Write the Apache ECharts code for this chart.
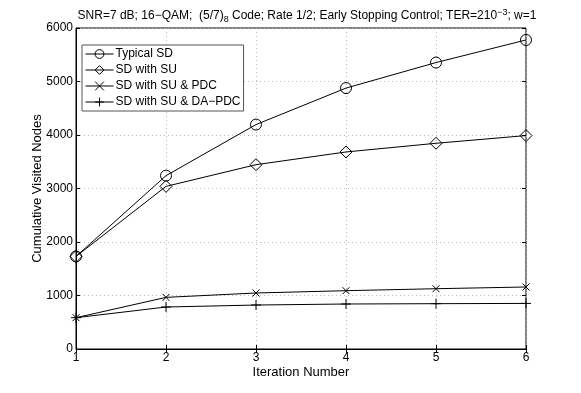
<!DOCTYPE html>
<html>
<head>
<meta charset="utf-8">
<script src="https://cdn.jsdelivr.net/npm/echarts@6/dist/echarts.min.js"></script>
<style>
  html, body { margin: 0; padding: 0; background: #fff; }
  #main { width: 581px; height: 393px; }
</style>
</head>
<body>
<div id="main"></div>
<script>
var iterations = [1, 2, 3, 4, 5, 6];
var typicalSD = [1730, 3240, 4195, 4877, 5354, 5776];
var sdWithSU = [1730, 3040, 3445, 3683, 3845, 3989];
var suPDC = [585, 965, 1047, 1090, 1127, 1159];
var suDAPDC = [585, 785, 822, 841, 847, 852];
var seriesNames = ['Typical SD', 'SD with SU', 'SD with SU & PDC', 'SD with SU & DA\u2212PDC'];

var font = 'Liberation Sans, Arial, Helvetica, sans-serif';
var crossPath = 'path://M0,0L10,10M10,0L0,10';
var plusPath = 'path://M5,0L5,10M0,5L10,5';

function pairs(vals) {
    return iterations.map(function (x, i) { return [x, vals[i]]; });
}

function makeSeries(name, vals, symbol, size) {
    return {
        name: name,
        type: 'line',
        data: pairs(vals),
        symbol: symbol,
        symbolSize: size,
        showAllSymbol: true,
        lineStyle: { color: '#000', width: 1 },
        itemStyle: { color: 'rgba(0,0,0,0)', borderColor: '#000', borderWidth: 1 },
        emphasis: { disabled: true },
        animation: false
    };
}

var chart = echarts.init(document.getElementById('main'));
chart.setOption({
    backgroundColor: '#fff',
    title: {
        text: 'SNR=7 dB; 16\u2212QAM;  (5/7){sub|8} Code; Rate 1/2; Early Stopping Control; TER=210{sup|\u22123}; w=1',
        left: 302,
        top: 3,
        textAlign: 'center',
        textStyle: {
            fontFamily: font, fontSize: 12, fontWeight: 'normal', color: '#000',
            rich: {
                sub: { fontFamily: font, fontSize: 9, verticalAlign: 'bottom', padding: [7, 0, 0, 0], color: '#000' },
                sup: { fontFamily: font, fontSize: 9, verticalAlign: 'top', padding: [0, 0, 7, 0], color: '#000' }
            }
        }
    },
    legend: {
        orient: 'vertical',
        left: 82,
        top: 45,
        itemWidth: 28,
        itemHeight: 11,
        itemGap: 4,
        padding: [3, 3, 3, 3],
        borderColor: '#555',
        borderWidth: 1,
        backgroundColor: '#fff',
        lineStyle: { width: 1, color: '#000' },
        itemStyle: { color: 'rgba(0,0,0,0)', borderColor: '#000', borderWidth: 1 },
        textStyle: { fontFamily: font, fontSize: 12, color: '#000', padding: [0, 0, 0, -3] },
        data: seriesNames
    },
    grid: {
        left: 76, right: 55, top: 28, bottom: 44,
        show: true, borderColor: '#000', borderWidth: 1, backgroundColor: '#fff'
    },
    xAxis: [{
        type: 'value',
        min: 1, max: 6, interval: 1,
        name: 'Iteration Number',
        nameLocation: 'middle',
        nameGap: 17,
        nameMoveOverlap: false,
        nameTextStyle: { fontFamily: font, fontSize: 13, color: '#000' },
        axisLine: { lineStyle: { color: '#000' } },
        axisTick: { inside: true, length: 4, lineStyle: { color: '#000' } },
        axisLabel: { fontFamily: font, fontSize: 12, color: '#000', margin: 3 },
        splitLine: { show: true, lineStyle: { color: '#bbb', type: [1, 3] } }
    }, {
        type: 'value', position: 'top',
        min: 1, max: 6, interval: 1,
        axisLine: { show: false },
        axisTick: { inside: true, length: 4, lineStyle: { color: '#000' } },
        axisLabel: { show: false },
        splitLine: { show: false }
    }],
    yAxis: [{
        type: 'value',
        min: 0, max: 6000, interval: 1000,
        name: 'Cumulative Visited Nodes',
        nameLocation: 'middle',
        nameGap: 32,
        nameMoveOverlap: false,
        nameTextStyle: { fontFamily: font, fontSize: 13, color: '#000' },
        axisLine: { show: true, lineStyle: { color: '#000' } },
        axisTick: { show: true, inside: true, length: 4, lineStyle: { color: '#000' } },
        axisLabel: { fontFamily: font, fontSize: 12, color: '#000', margin: 3, formatter: function (v) { return String(v); } },
        splitLine: { show: true, lineStyle: { color: '#bbb', type: [1, 3] } }
    }, {
        type: 'value', position: 'right',
        min: 0, max: 6000, interval: 1000,
        axisLine: { show: false },
        axisTick: { show: true, inside: true, length: 4, lineStyle: { color: '#000' } },
        axisLabel: { show: false },
        splitLine: { show: false }
    }],
    series: [
        makeSeries(seriesNames[0], typicalSD, 'circle', 11),
        makeSeries(seriesNames[1], sdWithSU, 'diamond', 12),
        makeSeries(seriesNames[2], suPDC, crossPath, 7),
        makeSeries(seriesNames[3], suDAPDC, plusPath, 10)
    ]
});
</script>
</body>
</html>
